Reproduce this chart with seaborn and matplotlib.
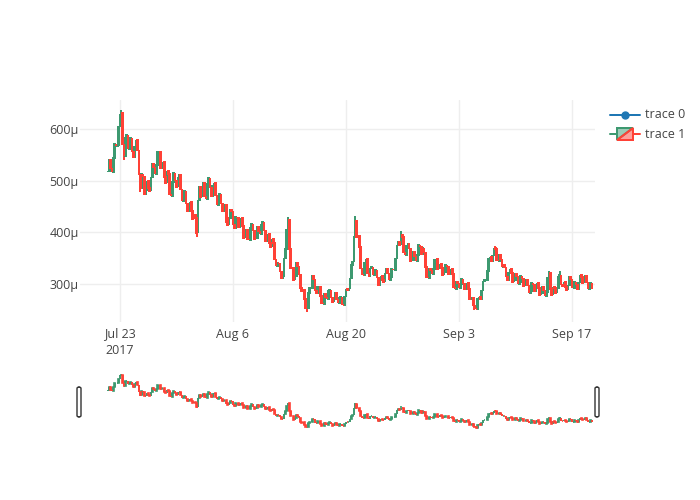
import numpy as np
import pandas as pd
import matplotlib
matplotlib.use("Agg")
import matplotlib.pyplot as plt
import matplotlib.dates as mdates
from matplotlib.patches import Polygon, FancyBboxPatch
from matplotlib.lines import Line2D
import seaborn as sns

# 4-hourly candles, prices in micro units
START = "2017-07-21 12:00"
FREQ = "4h"
FIRST_OPEN = 517
CLOSE = [
    519, 540, 524, 517, 543, 571, 568, 569, 603, 628,
    630, 571, 548, 583, 588, 562, 574, 582, 556, 545,
    565, 578, 560, 510, 486, 513, 508, 475, 480, 499,
    486, 480, 508, 533, 527, 513, 531, 556, 556, 525,
    533, 536, 507, 496, 518, 512, 475, 470, 498, 514,
    500, 487, 507, 510, 483, 461, 473, 480, 455, 442,
    452, 459, 442, 425, 433, 427, 398, 462, 488, 469,
    484, 495, 470, 465, 493, 505, 485, 471, 489, 496,
    472, 453, 466, 474, 455, 442, 452, 452, 427, 415,
    428, 444, 442, 414, 409, 430, 428, 410, 417, 427,
    412, 390, 392, 404, 387, 385, 408, 417, 402, 387,
    390, 411, 402, 396, 415, 420, 402, 384, 391, 397,
    379, 371, 387, 379, 348, 335, 341, 341, 324, 312,
    313, 350, 368, 404, 424, 367, 332, 331, 307, 316,
    341, 335, 318, 293, 287, 288, 271, 254, 253, 282,
    293, 292, 315, 310, 287, 282, 295, 295, 277, 263,
    262, 280, 275, 272, 287, 289, 273, 265, 275, 282,
    271, 263, 273, 275, 260, 259, 275, 290, 288, 290,
    311, 336, 342, 393, 422, 392, 393, 372, 332, 318,
    317, 341, 348, 321, 313, 332, 333, 317, 325, 327,
    311, 299, 306, 315, 307, 305, 321, 330, 321, 308,
    313, 329, 327, 328, 348, 375, 382, 376, 395, 391,
    363, 356, 373, 379, 368, 345, 347, 363, 355, 344,
    357, 376, 371, 358, 369, 361, 333, 313, 312, 329,
    328, 319, 329, 347, 348, 329, 329, 339, 331, 318,
    324, 337, 333, 319, 323, 330, 319, 295, 290, 305,
    303, 293, 301, 310, 301, 290, 297, 303, 291, 272,
    272, 274, 259, 252, 251, 272, 275, 272, 287, 306,
    308, 307, 325, 348, 353, 345, 355, 370, 367, 347,
    345, 356, 349, 334, 337, 334, 313, 308, 322, 330,
    321, 305, 307, 320, 315, 301, 305, 316, 309, 296,
    301, 308, 298, 283, 287, 302, 299, 287, 294, 302,
    293, 279, 283, 294, 288, 277, 285, 312, 321, 291,
    279, 295, 293, 283, 292, 314, 318, 298, 297, 305,
    295, 288, 299, 313, 309, 292, 293, 304, 298, 291,
    303, 317, 313, 302, 309, 316, 305, 290, 293, 302,
    290,
]
SPIKE_HIGH = {10: 637, 134: 430, 184: 431, 218: 403, 288: 374, 328: 326, 336: 326}
SPIKE_LOW = {12: 540, 24: 478, 66: 392, 88: 418, 148: 247, 272: 250}

Y_TICKS = [300, 400, 500, 600]
X_TICKS = ["2017-07-23", "2017-08-06", "2017-08-20", "2017-09-03", "2017-09-17"]
X_TICK_LABELS = ["Jul 23\n2017", "Aug 6", "Aug 20", "Sep 3", "Sep 17"]
LEGEND_LABELS = ["trace 0", "trace 1"]

INC = "#3D9970"
DEC = "#FF4136"
TXT = "#444444"
W, H = 700, 500

df = pd.DataFrame({
    "time": pd.date_range(START, periods=len(CLOSE), freq=FREQ),
    "close": CLOSE,
    "open": [FIRST_OPEN] + CLOSE[:-1],
})
df["high"] = df[["open", "close"]].max(axis=1)
df["low"] = df[["open", "close"]].min(axis=1)
for i, v in SPIKE_HIGH.items():
    df.loc[i, "high"] = v
for i, v in SPIKE_LOW.items():
    df.loc[i, "low"] = v
df["inc"] = df["close"] > df["open"]

sns.set_theme(style="white")
plt.rcParams["font.family"] = ["Open Sans", "DejaVu Sans"]

XLIM = (mdates.date2num(pd.Timestamp("2017-07-18 01:00")),
        mdates.date2num(pd.Timestamp("2017-09-19 20:40")))
YLIM = (226.7, 656)


def fx(x):
    return x / W


def fy(y):
    return 1 - y / H


def draw_candles(ax, data, lw, body_w):
    for flag, col in [(True, INC), (False, DEC)]:
        sub = data[data["inc"] == flag]
        ax.vlines(sub["time"], sub["low"], sub["high"], color=col, lw=lw, zorder=2)
        ax.bar(sub["time"], (sub["close"] - sub["open"]).abs(),
               bottom=sub[["open", "close"]].min(axis=1), width=body_w,
               color=matplotlib.colors.to_rgba(col, 0.5), edgecolor=col,
               linewidth=lw, zorder=3)


fig = plt.figure(figsize=(7, 5), dpi=100)
fig.patch.set_facecolor("white")

# main plot area: x 80-595, y 100-322 px
ax = fig.add_axes([fx(80), fy(322), fx(515), 222 / H])
draw_candles(ax, df, 1.44, 0.08)
ax.set_xlim(XLIM)
ax.set_ylim(YLIM)
ax.set_yticks(Y_TICKS)
ax.set_yticklabels([f"{v}μ" for v in Y_TICKS])
ax.set_xticks([mdates.date2num(pd.Timestamp(t)) for t in X_TICKS])
ax.set_xticklabels(X_TICK_LABELS, linespacing=1.3)
ax.tick_params(axis="both", length=0, labelsize=9, labelcolor=TXT)
ax.tick_params(axis="x", pad=4)
ax.tick_params(axis="y", pad=1)
ax.grid(True, color="#eeeeee", lw=1)
ax.set_axisbelow(True)
for s in ax.spines.values():
    s.set_visible(False)
ax.set_xlabel("")
ax.set_ylabel("")

# range slider: y 371-430 px
rs = fig.add_axes([fx(80), fy(430), fx(515), 59 / H])
draw_candles(rs, df, 1.2, 0.08)
rs.set_xlim(XLIM)
rs.set_ylim(233, 658)
rs.set_xticks([])
rs.set_yticks([])
for s in rs.spines.values():
    s.set_visible(False)

for hx in (77, 595):
    fig.patches.append(FancyBboxPatch(
        (fx(hx), fy(417)), fx(4), 30 / H,
        boxstyle="round,pad=0,rounding_size=0.003",
        transform=fig.transFigure, facecolor="white",
        edgecolor="#333333", lw=1))

# legend, drawn in figure pixels
fig.add_artist(Line2D([fx(610), fx(640)], [fy(115), fy(115)], color="#1f77b4",
                      lw=1.44, transform=fig.transFigure))
fig.add_artist(Line2D([fx(625)], [fy(115)], color="#1f77b4", marker="o",
                      markersize=5, lw=0, transform=fig.transFigure))
fig.text(fx(645), fy(115), LEGEND_LABELS[0], fontsize=9, color=TXT, va="center")

cy = 134
fig.add_artist(Line2D([fx(610), fx(617)], [fy(cy), fy(cy)], color=INC, lw=1.44,
                      transform=fig.transFigure))
fig.add_artist(Polygon([(fx(617), fy(cy + 6)), (fx(617), fy(cy - 6)), (fx(633), fy(cy - 6))],
                       closed=True, facecolor=matplotlib.colors.to_rgba(INC, 0.5),
                       edgecolor=INC, lw=1.44, transform=fig.transFigure))
fig.add_artist(Line2D([fx(633), fx(640)], [fy(cy), fy(cy)], color=DEC, lw=1.44,
                      transform=fig.transFigure))
fig.add_artist(Polygon([(fx(633), fy(cy - 6)), (fx(633), fy(cy + 6)), (fx(617), fy(cy + 6))],
                       closed=True, facecolor=matplotlib.colors.to_rgba(DEC, 0.5),
                       edgecolor=DEC, lw=1.44, transform=fig.transFigure))
fig.text(fx(645), fy(cy), LEGEND_LABELS[1], fontsize=9, color=TXT, va="center")

fig.savefig("out.png", dpi=100)
